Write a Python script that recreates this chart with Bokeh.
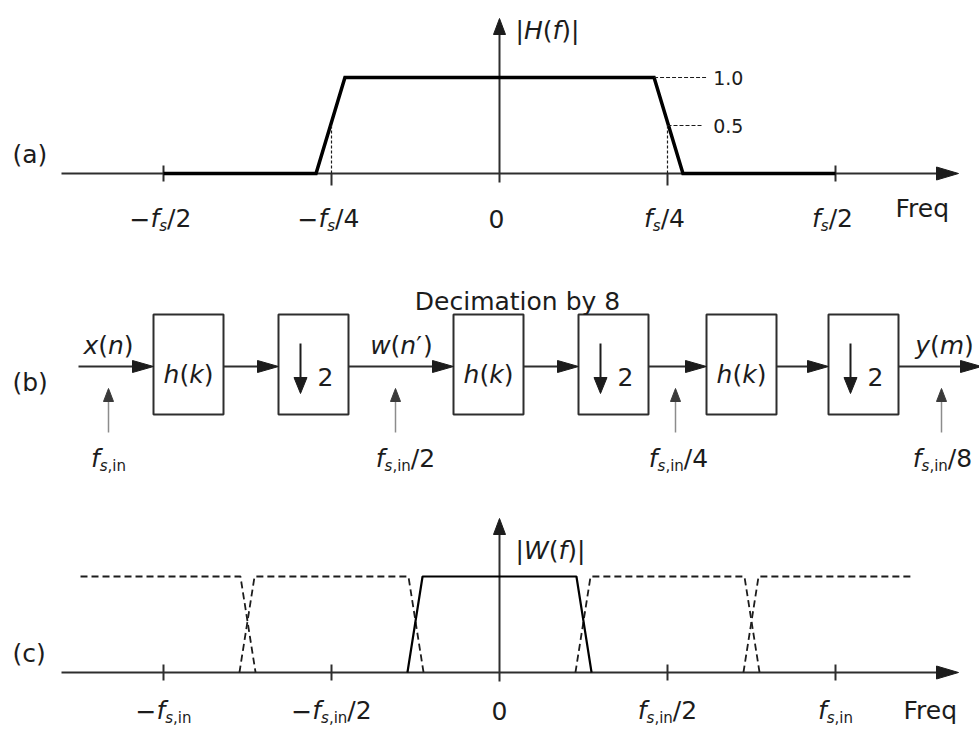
from bokeh.plotting import figure
from bokeh.layouts import column
from bokeh.models import Range1d, ColumnDataSource
from bokeh.core.properties import value
from bokeh.embed import file_html
from bokeh.resources import INLINE

# ------------------------------------------------------------------ data
# (a) lowpass filter |H(f)|, frequency in units of fs
h_freq = [-0.5, -0.273, -0.230, 0.230, 0.273, 0.5]
h_mag = [0.0, 0.0, 1.0, 1.0, 0.0, 0.0]
a_tick_vals = [-0.5, -0.25, 0.0, 0.25, 0.5]
a_tick_labels = [
    [("−", "n"), ("f", "i"), ("s", "si"), ("/2", "n")],
    [("−", "n"), ("f", "i"), ("s", "si"), ("/4", "n")],
    [("0", "n")],
    [("f", "i"), ("s", "si"), ("/4", "n")],
    [("f", "i"), ("s", "si"), ("/2", "n")],
]
a_levels = [1.0, 0.5]
a_level_labels = ["1.0", "0.5"]
a_half_point = 0.25

# (b) decimation-by-8 chain
stage_kind = ["h", "d", "h", "d", "h", "d"]
stage_left = [153, 278, 453, 578, 706, 828]
signal_labels = [
    [("x", "i"), ("(", "n"), ("n", "i"), (")", "n")],
    [("w", "i"), ("(", "n"), ("n", "i"), ("′", "n"), (")", "n")],
    [("y", "i"), ("(", "n"), ("m", "i"), (")", "n")],
]
signal_label_x = [108, 401, 944]
rate_arrow_x = [108, 395, 675, 941]
rate_label_x = [108, 405, 678, 942]
rate_labels = [
    [("f", "i"), ("s", "si"), (",in", "sn")],
    [("f", "i"), ("s", "si"), (",in", "sn"), ("/2", "n")],
    [("f", "i"), ("s", "si"), (",in", "sn"), ("/4", "n")],
    [("f", "i"), ("s", "si"), (",in", "sn"), ("/8", "n")],
]

# (c) spectrum |W(f)| after first stage, frequency in units of fs,in
w_freq = [-0.274, -0.229, 0.229, 0.274]
w_mag = [0.0, 1.0, 1.0, 0.0]
image_centers = [-1.0, -0.5, 0.5, 1.0]
image_pass, image_stop = 0.229, 0.274
image_span = (-1.247, 1.232)
c_tick_vals = [-1.0, -0.5, 0.0, 0.5, 1.0]
c_tick_labels = [
    [("−", "n"), ("f", "i"), ("s", "si"), (",in", "sn")],
    [("−", "n"), ("f", "i"), ("s", "si"), (",in", "sn"), ("/2", "n")],
    [("0", "n")],
    [("f", "i"), ("s", "si"), (",in", "sn"), ("/2", "n")],
    [("f", "i"), ("s", "si"), (",in", "sn")],
]

# ------------------------------------------------------------------ style
FONT = "DejaVu Sans"
INK = "#1c1c1c"
AXIS = "#2e2e2e"
GRAY = "#8c8c8c"
MAIN = 25
SUB = 15
SUBDY = 7

EM = {' ': .318, '(': .390, ')': .390, ',': .318, '.': .318, '/': .337, '−': .838,
      'F': .575, 'H': .752, 'W': .989, 'D': .770, 'a': .613, 'b': .635, 'c': .550,
      'e': .615, 'f': .352, 'h': .634, 'i': .278, 'k': .579, 'm': .974, 'n': .634,
      'o': .612, 'q': .635, 'r': .411, 's': .521, 't': .392, 'w': .818, 'x': .592,
      'y': .592, '|': .337, '′': .275}
for d in "0123456789":
    EM[d] = .636


def text_w(s, size):
    return sum(EM.get(ch, .6) for ch in s) * size


def style_of(st, main):
    if st == "n":
        return main, "normal", 0
    if st == "i":
        return main, "italic", 0
    if st == "si":
        return SUB, "italic", SUBDY
    return SUB, "normal", SUBDY


class TextBuf:
    def __init__(self, sx, sy):
        self.sx, self.sy = sx, sy
        self.d = dict(x=[], y=[], text=[], size=[], style=[], color=[])

    def add(self, x, y, pieces, align="center", main=MAIN, color=INK):
        items = []
        total = 0.0
        for txt, st in pieces:
            sz, fs, dy = style_of(st, main)
            w = text_w(txt, sz)
            items.append((txt, sz, fs, dy, w))
            total += w
        cur = -total / 2 if align == "center" else 0.0
        for txt, sz, fs, dy, w in items:
            self.d["x"].append(x + cur / self.sx)
            self.d["y"].append(y - dy / self.sy)
            self.d["text"].append(txt)
            self.d["size"].append(f"{sz}px")
            self.d["style"].append(fs)
            self.d["color"].append(color)
            cur += w

    def draw(self, p, baseline="alphabetic"):
        p.text(x="x", y="y", text="text", source=ColumnDataSource(self.d),
               text_font=value(FONT), text_font_size="size", text_font_style="style",
               text_color="color", text_align="left", text_baseline=baseline)


def arrowhead(p, tx, ty, direction, length, half, sx, sy, color):
    if direction == "right":
        xs = [tx, tx - length / sx, tx - length / sx]
        ys = [ty, ty + half / sy, ty - half / sy]
    elif direction == "up":
        xs = [tx, tx - half / sx, tx + half / sx]
        ys = [ty, ty - length / sy, ty - length / sy]
    else:  # down
        xs = [tx, tx - half / sx, tx + half / sx]
        ys = [ty, ty + length / sy, ty + length / sy]
    p.patch(xs, ys, fill_color=color, line_color=color, line_width=1)


def base_fig(h, xr, yr):
    p = figure(width=W, height=h, x_range=xr, y_range=yr, x_axis_type=None,
               y_axis_type=None, toolbar_location=None, output_backend="svg",
               min_border=0, outline_line_color=None)
    p.grid.visible = False
    return p


W = 979
X0 = 499          # frequency origin (px from left)
# ------------------------------------------------------------------ panel (a)
SXA, SYA = 672.0, 96.0
BASE_A = 173      # baseline (px from top of panel)
HA = 248
pa = base_fig(HA, Range1d(-X0 / SXA, (W - X0) / SXA),
              Range1d(-(HA - BASE_A) / SYA, BASE_A / SYA))
ta = TextBuf(SXA, SYA)
ax_l, ax_r = -438 / SXA, 459 / SXA
pa.line([ax_l, ax_r - 10 / SXA], [0, 0], line_color=AXIS, line_width=2)
arrowhead(pa, ax_r, 0, "right", 22, 6.5, SXA, SYA, INK)
v_top = 155 / SYA
pa.line([0, 0], [-9 / SYA, v_top - 8 / SYA], line_color=AXIS, line_width=2)
arrowhead(pa, 0, v_top, "up", 16, 6, SXA, SYA, INK)
for v in a_tick_vals:
    if v == 0:
        continue
    if abs(v) == a_half_point:
        pa.line([v, v], [0, -12 / SYA], line_color=AXIS, line_width=2)
    else:
        pa.line([v, v], [-8 / SYA, 8 / SYA], line_color=AXIS, line_width=2)
pa.line(h_freq, h_mag, line_color="black", line_width=3.5, line_join="miter")
for v in (-a_half_point, a_half_point):
    pa.line([v, v], [0, a_levels[1]], line_color=INK, line_width=1.2, line_dash="3 2")
pa.line([h_freq[3], 0.31], [a_levels[0]] * 2, line_color=INK, line_width=1.2, line_dash="4 2")
pa.line([a_half_point, 0.302], [a_levels[1]] * 2, line_color=INK, line_width=1.2, line_dash="4 2")
tl = TextBuf(SXA, SYA)
for lv, lab in zip(a_levels, a_level_labels):
    tl.add(0.318, lv, [(lab, "n")], align="left", main=19)
tl.draw(pa, baseline="middle")
for v, lab in zip(a_tick_vals, a_tick_labels):
    ta.add(v - 3 / SXA, -45 / SYA, lab)
ta.add(396 / SXA, -35 / SYA, [("Freq", "n")], align="left")
ta.add(16 / SXA, 143 / SYA, [("|", "n"), ("H", "i"), ("(", "n"), ("f", "i"), (")", "n"), ("|", "n")], align="left")
ta.add(-487 / SXA, 19 / SYA, [("(a)", "n")], align="left")
ta.draw(pa)

# ------------------------------------------------------------------ panel (b)
HB = 235
TOPB = HA         # page coordinate of the panel top
pb = base_fig(HB, Range1d(0, W), Range1d(TOPB + HB, TOPB))
tb = TextBuf(1.0, -1.0)
BOX_W, BOX_T, BOX_B, SIG_Y = 70, 314, 414, 366
pb.quad(left=stage_left, right=[l + BOX_W for l in stage_left], top=[BOX_T] * 6,
        bottom=[BOX_B] * 6, fill_color=None, line_color=AXIS, line_width=2)
starts = [78] + [l + BOX_W for l in stage_left]
ends = stage_left + [981]
for s, e in zip(starts, ends):
    pb.line([s, e - 14], [SIG_Y, SIG_Y], line_color=AXIS, line_width=2)
    arrowhead(pb, e, SIG_Y, "right", 21, 6, 1.0, -1.0, INK)
for kind, l in zip(stage_kind, stage_left):
    if kind == "h":
        tb.add(l + BOX_W / 2, SIG_Y + 8,
               [("h", "i"), ("(", "n"), ("k", "i"), (")", "n")])
    else:
        ax = l + 22
        pb.line([ax, ax], [SIG_Y - 23, SIG_Y + 18], line_color=INK, line_width=2)
        arrowhead(pb, ax, SIG_Y + 27, "down", 16, 6.5, 1.0, -1.0, INK)
        tb.add(l + 47, SIG_Y + 10, [("2", "n")])
for x, lab in zip(signal_label_x, signal_labels):
    tb.add(x, 345, lab)
for x in rate_arrow_x:
    pb.line([x, x], [432, 398], line_color=GRAY, line_width=1.5)
    arrowhead(pb, x, 388, "up", 13, 5, 1.0, -1.0, "#3a3a3a")
for x, lab in zip(rate_label_x, rate_labels):
    tb.add(x, 458, lab)
tb.add(517, 301, [("Decimation by 8", "n")])
tb.add(12, 382, [("(b)", "n")], align="left")
tb.draw(pb)

# ------------------------------------------------------------------ panel (c)
SXC, SYC = 336.0, 96.0
HC = 249
BASE_C = 189
pc = base_fig(HC, Range1d(-X0 / SXC, (W - X0) / SXC),
              Range1d(-(HC - BASE_C) / SYC, BASE_C / SYC))
tc = TextBuf(SXC, SYC)
cl, cr = -438 / SXC, 459 / SXC
pc.line([cl, cr - 10 / SXC], [0, 0], line_color=AXIS, line_width=2)
arrowhead(pc, cr, 0, "right", 22, 6.5, SXC, SYC, INK)
vt = 154 / SYC
pc.line([0, 0], [-9 / SYC, vt - 8 / SYC], line_color=AXIS, line_width=2)
arrowhead(pc, 0, vt, "up", 16, 6, SXC, SYC, INK)
for v in c_tick_vals:
    if v != 0:
        pc.line([v, v], [-8 / SYC, 8 / SYC], line_color=AXIS, line_width=2)
for c in image_centers:
    xs = [c - image_stop, c - image_pass, c + image_pass, c + image_stop]
    ys = [0.0, 1.0, 1.0, 0.0]
    if xs[0] < image_span[0]:
        xs, ys = [image_span[0]] + xs[2:], [1.0] + ys[2:]
    if xs[-1] > image_span[1]:
        xs, ys = xs[:2] + [image_span[1]], ys[:2] + [1.0]
    pc.line(xs, ys, line_color=INK, line_width=1.8, line_dash="7 4")
pc.line(w_freq, w_mag, line_color="black", line_width=2.2)
for v, lab in zip(c_tick_vals, c_tick_labels):
    tc.add(v, -38 / SYC, lab)
tc.add(404 / SXC, -38 / SYC, [("Freq", "n")], align="left")
tc.add(16 / SXC, 122 / SYC, [("|", "n"), ("W", "i"), ("(", "n"), ("f", "i"), (")", "n"), ("|", "n")], align="left")
tc.add(-487 / SXC, 19 / SYC, [("(c)", "n")], align="left")
tc.draw(pc)

layout = column(pa, pb, pc, spacing=0)
open("out.html", "w").write(file_html(layout, INLINE))
